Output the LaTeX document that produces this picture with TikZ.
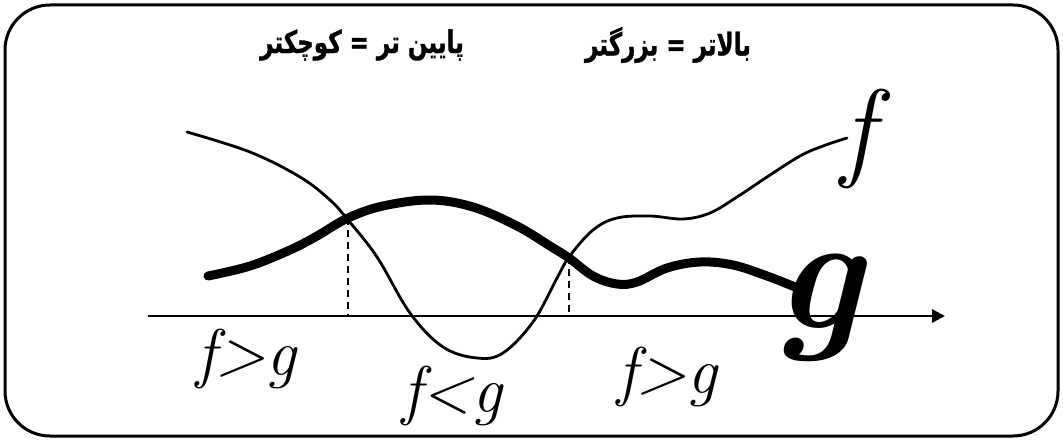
\documentclass[tikz,border=0pt]{standalone}
\usepackage{fontspec}
\usepackage{graphicx}
\usetikzlibrary{arrows.meta}
\TeXXeTstate=1
\newfontfamily\arabicfont[Script=Arabic,FakeBold=1.2]{DejaVu Sans}
\tikzset{
  frame/.style={line width=3pt, rounded corners=45pt},
  fcurve/.style={line width=2.8pt, line cap=round, line join=round},
  gcurve/.style={line width=9pt, line cap=round, line join=round},
  axisline/.style={line width=2.8pt, -{Triangle[length=13pt,width=13pt]}},
  guide/.style={line width=2pt, dash pattern=on 7pt off 5pt},
  title/.style={font=\arabicfont\bfseries\fontsize{23}{28}\selectfont, inner sep=0pt},
  hand/.style={inner sep=0pt, anchor=base, font=\itshape\fontsize{66}{66}\selectfont},
}
\begin{document}
\begin{tikzpicture}[x=1pt,y=-1pt]
\useasboundingbox (0,0) rectangle (1063,441);
\draw[frame] (5,5) rectangle (1058,436);

\node[title] (big) at (668,45) {\scalebox{1}[1.35]{\beginR بالاتر = بزرگتر\endR}};
\node[title] (small) at (362,45) {\scalebox{1}[1.35]{\beginR پایین تر = کوچکتر\endR}};

\coordinate (a0) at (148,316);
\coordinate (a1) at (945,316);
\draw[axisline] (a0) -- (a1);

\coordinate (p1) at (348,218);
\coordinate (p2) at (569,257);
\draw[guide] (p1) -- (p1 |- a0);
\draw[guide] (p2) -- (p2 |- a0);

% g (thick)
\draw[gcurve] plot[smooth, tension=0.6] coordinates {
 (208,276) (250,266) (290,250) (317,236) (348,218) (383,206) (430,200)
 (473,207) (517,226) (550,246) (569,258) (593,276) (617,284) (637,282)
 (667,268) (700,262) (733,265) (767,276) (795,287)};

% f (thin)
\draw[fcurve] plot[smooth, tension=0.6] coordinates {
 (187,132) (250,152) (300,177) (330,200) (348,220) (377,257) (410,313)
 (443,347) (477,358) (503,353) (533,322) (556,280) (569,257) (593,230)
 (617,218) (650,216) (683,219) (710,213) (737,197) (767,177) (800,156)
 (823,146) (847,138)};

\node[inner sep=0pt, anchor=base, font=\itshape\fontsize{110}{110}\selectfont] (flab) at (858,167) {f};
\node[inner sep=0pt, anchor=base, font=\bfseries\itshape\fontsize{165}{165}\selectfont] (glab) at (818,328) {g};

\node[hand] (l1) at (246,375) {f>g};
\node[hand] (l2) at (452,412) {f<g};
\node[hand] (l3) at (667,393) {f>g};
\end{tikzpicture}
\end{document}
